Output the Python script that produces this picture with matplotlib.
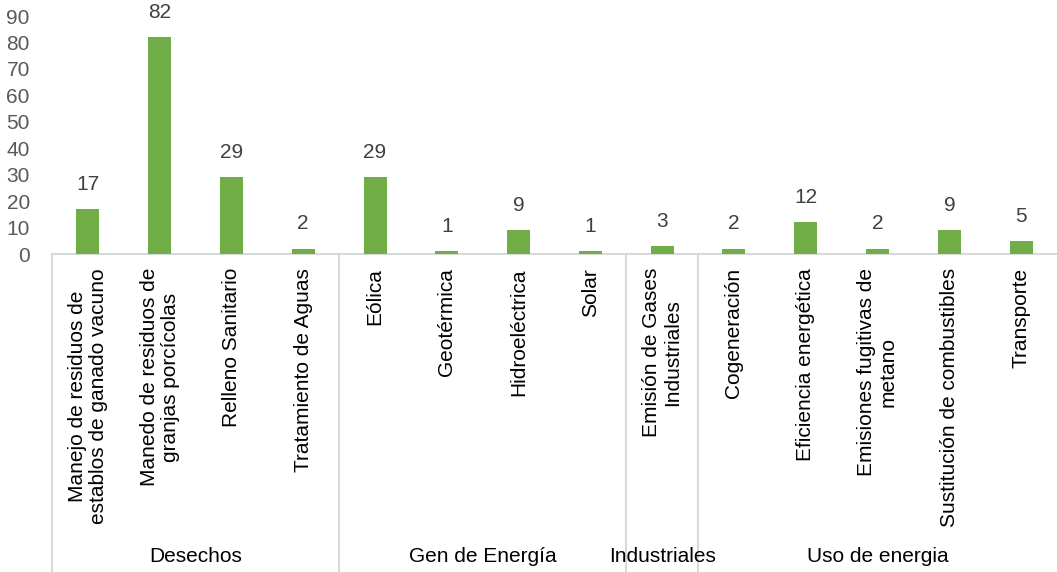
import matplotlib
matplotlib.use("Agg")
import matplotlib.pyplot as plt

plt.rcParams['font.family'] = ['Liberation Sans', 'DejaVu Sans']

categories = [
    "Manejo de residuos de\nestablos de ganado vacuno",
    "Manedo de residuos de\ngranjas porcícolas",
    "Relleno Sanitario",
    "Tratamiento de Aguas",
    "Eólica",
    "Geotérmica",
    "Hidroeléctrica",
    "Solar",
    "Emisión de Gases\nIndustriales",
    "Cogeneración",
    "Eficiencia energética",
    "Emisiones fugitivas de\nmetano",
    "Sustitución de combustibles",
    "Transporte",
]
values = [17, 82, 29, 2, 29, 1, 9, 1, 3, 2, 12, 2, 9, 5]
groups = ["Desechos", "Gen de Energía", "Industriales", "Uso de energia"]
group_sizes = [4, 4, 1, 5]

W, H = 1057, 572
fig = plt.figure(figsize=(W / 100, H / 100), dpi=100)
left, right, top, bottom = 52, 1057, 16, 254
ax = fig.add_axes([left / W, 1 - bottom / H, (right - left) / W, (bottom - top) / H])

green = "#70AD47"
grid_c = "#D9D9D9"
fs = 15
x = list(range(len(values)))
bars = ax.bar(x, values, width=0.32, color=green, zorder=3)

for xi, v in zip(x, values):
    ax.annotate(str(v), (xi, v), xytext=(0, 11), textcoords="offset points",
                ha="center", va="bottom", fontsize=fs, color="#404040")

ax.set_xlim(-0.5, len(values) - 0.5)
ax.set_ylim(0, 90)
ax.set_yticks(range(0, 91, 10))
ax.tick_params(axis="y", length=0, pad=16, labelsize=fs, labelcolor="#595959")
ax.set_xticks([])
for s in ["top", "right", "left"]:
    ax.spines[s].set_visible(False)
ax.spines["bottom"].set_color(grid_c)
ax.spines["bottom"].set_linewidth(1.5)

ax_h = bottom - top
trans = ax.get_xaxis_transform()

# category labels (rotated)
for xi, lab in zip(x, categories):
    ax.text(xi, -14 / ax_h, lab, transform=trans, rotation=90,
            ha="center", va="top", multialignment="center",
            fontsize=fs, color="black", linespacing=1.15)

# group separators and group labels
y_end = -(H - bottom) / ax_h
start = 0
bounds = [-0.5]
for g, n in zip(groups, group_sizes):
    end = start + n
    bounds.append(end - 0.5)
    ax.text((start + end - 1) / 2, -(557 - bottom) / ax_h, g, transform=trans,
            ha="center", va="center", fontsize=fs, color="black")
    start = end
for b in bounds[:-1]:
    ax.plot([b, b], [0, y_end], transform=trans, color=grid_c, lw=1.5,
            clip_on=False)

fig.savefig("out.png", dpi=100)
